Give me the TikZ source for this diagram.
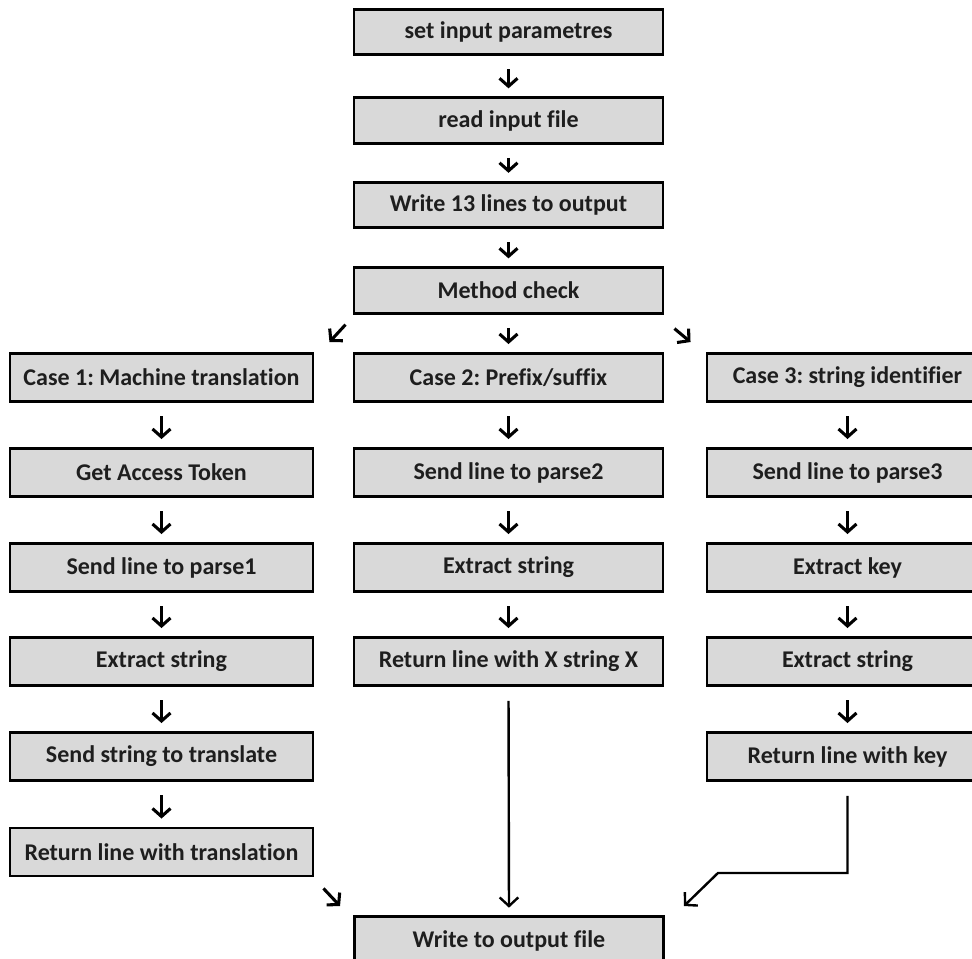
\documentclass[tikz,border=0pt]{standalone}
\usepackage{fontspec}
\setmainfont{Carlito}[Ligatures={NoCommon}]
\usetikzlibrary{arrows.meta}
\definecolor{boxgray}{HTML}{D9D9D9}
\definecolor{txt}{HTML}{1E1E1E}
\tikzset{
  box/.style={draw=black, line width=2.2pt, fill=boxgray, text=txt,
    font=\bfseries\fontsize{18}{20}\selectfont, inner sep=0pt,
    minimum height=36pt},
  mainbox/.style={box, minimum width=231.75pt, minimum height=34pt},
  leftbox/.style={box, minimum width=227.25pt},
  midbox/.style={box, minimum width=231.75pt},
  rightbox/.style={box, minimum width=210.75pt},
  arr/.style={line width=2.3pt, -{Straight Barb[length=6pt,width=13.5pt]}},
  dn/.style={arr, shorten <=10pt, shorten >=6pt},
  longline/.style={line width=1.8pt, -{Straight Barb[length=6.5pt,width=14pt]}},
}
\begin{document}
\frenchspacing
\begin{tikzpicture}[x=0.75pt,y=-0.75pt]
\useasboundingbox[fill=white] (0,0) rectangle (972,959);
% main column
\node[mainbox] (p)   at (508.5,32)    {set input parametres};
\node[mainbox] (r)   at (508.5,120.5) {read input file};
\node[mainbox] (w13) at (508.5,205)   {Write 13 lines to output};
\node[mainbox] (mc)  at (508.5,290.5) {Method check};
% left column
\node[leftbox] (c1) at (161.5,377.5) {Case 1: Machine translation};
\node[leftbox] (a1) at (161.5,472.5) {Get Access Token};
\node[leftbox] (a2) at (161.5,567.5) {Send line to parse1};
\node[leftbox] (a3) at (161.5,661.5) {Extract string};
\node[leftbox] (a4) at (161.5,756.5) {Send string to translate};
\node[leftbox] (a5) at (161.5,852)   {Return line with translation};
% middle column
\node[midbox] (c2) at (508.5,377.5) {Case 2: Prefix/suffix};
\node[midbox] (b1) at (508.5,472.5) {Send line to parse2};
\node[midbox] (b2) at (508.5,567.5) {Extract string};
\node[midbox] (b3) at (508.5,661.5) {Return line with X string X};
% right column
\node[rightbox] (c3) at (847.5,377.5) {Case 3: string identifier};
\node[rightbox] (d1) at (847.5,472.5) {Send line to parse3};
\node[rightbox] (d2) at (847.5,567.5) {Extract key};
\node[rightbox] (d3) at (847.5,661.5) {Extract string};
\node[rightbox] (d4) at (847.5,756.5) {Return line with key};
% output
\node[midbox] (out) at (509,940.5) {Write to output file};

% vertical arrows
\foreach \a/\b in {p/r, r/w13, w13/mc, mc/c2,
  c1/a1, a1/a2, a2/a3, a3/a4, a4/a5,
  c2/b1, b1/b2, b2/b3,
  c3/d1, d1/d2, d2/d3, d3/d4}
  \draw[dn] (\a.south) -- (\b.north);

% diagonal arrows from Method check
\draw[arr] ([shift={(-7,10)}]mc.south west) -- ([shift={(15,-10)}]c1.north east);
\draw[arr] ([shift={(10,14)}]mc.south east) -- ([shift={(-15,-10)}]c3.north west);

% into output
\draw[arr] ([shift={(9,11)}]a5.south east) -- ([shift={(-13,-9)}]out.north west);
\draw[longline, shorten <=10.5pt, shorten >=5.5pt] (b3.south) -- (out.north);
\coordinate (k1) at ([shift={(0,91)}]d4.south);
\coordinate (k2) at ([shift={(-129.5,0)}]k1);
\draw[longline] ([shift={(0,14)}]d4.south) -- (k1) -- (k2) -- ([shift={(19,-9)}]out.north east);
\end{tikzpicture}
\end{document}
